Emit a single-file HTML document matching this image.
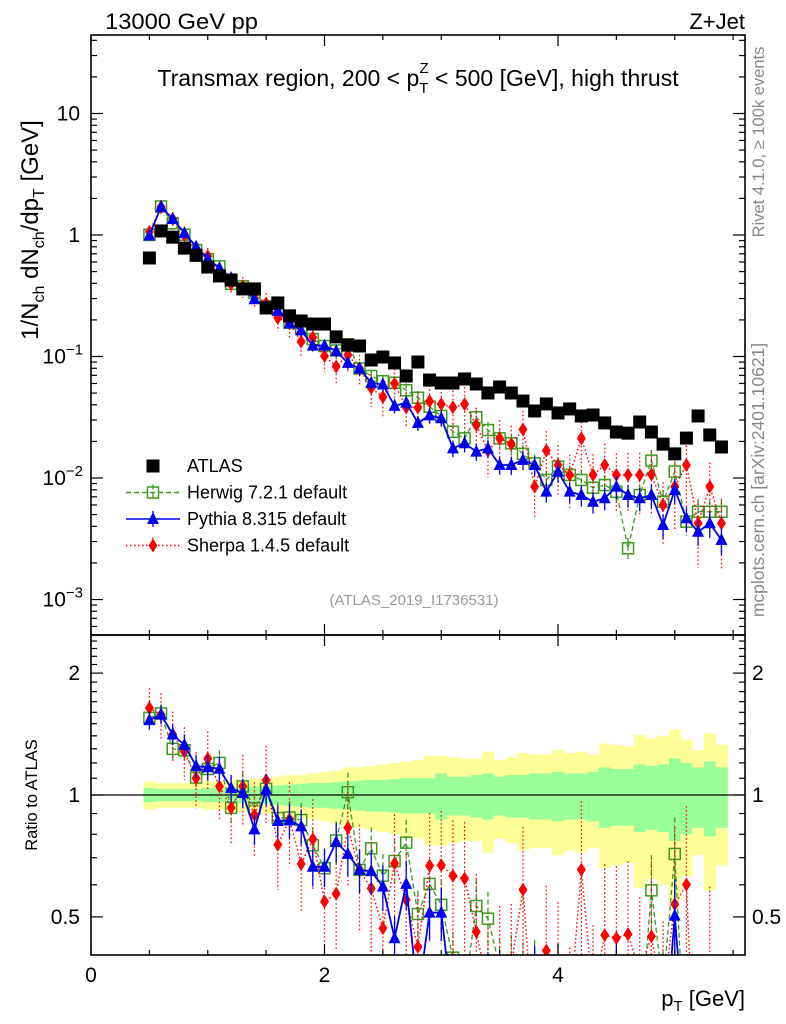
<!DOCTYPE html>
<html><head><meta charset="utf-8">
<style>
html,body{margin:0;padding:0;background:#fff;overflow:hidden;width:786px;height:1024px;}
svg{display:block;font-family:"Liberation Sans",sans-serif;}
</style></head>
<body>
<svg id="chart" width="786" height="1024" viewBox="0 0 786 1024" xmlns="http://www.w3.org/2000/svg">
  <text x="105" y="29" font-size="22" textLength="153" lengthAdjust="spacingAndGlyphs">13000 GeV pp</text>
  <text x="745" y="29" font-size="22" text-anchor="end">Z+Jet</text>
  <text x="418" y="86" font-size="23" text-anchor="middle">Transmax region, 200 &lt; p<tspan font-size="15" dy="7">T</tspan><tspan font-size="15" dx="-9" dy="-20">Z</tspan><tspan dy="13"> &lt; 500 [GeV], high thrust</tspan></text>
  <text transform="translate(38,230) rotate(-90)" font-size="24" text-anchor="middle">1/N<tspan font-size="16" dy="6">ch</tspan><tspan dy="-6"> dN</tspan><tspan font-size="16" dy="6">ch</tspan><tspan dy="-6">/dp</tspan><tspan font-size="16" dy="6">T</tspan><tspan dy="-6"> [GeV]</tspan></text>
  <text transform="translate(764,142) rotate(-90)" font-size="16.5" fill="#888" text-anchor="middle">Rivet 4.1.0, ≥ 100k events</text>
  <text transform="translate(764,480) rotate(-90)" font-size="17.5" fill="#888" text-anchor="middle">mcplots.cern.ch [arXiv:2401.10621]</text>
  <text x="414" y="605" font-size="15" fill="#999" text-anchor="middle">(ATLAS_2019_I1736531)</text>
  <text transform="translate(37,795) rotate(-90)" font-size="16.5" text-anchor="middle">Ratio to ATLAS</text>
  <text x="745" y="1006" font-size="22" text-anchor="end">p<tspan font-size="15" dy="5">T</tspan><tspan dy="-5"> [GeV]</tspan></text>
  <g id="bands"></g>
  <g id="series"></g>
  <g id="axes"></g>
  <g id="legend"></g>
</svg>
<script>
const xVals=[0.5,0.6,0.7,0.8,0.9,1.0,1.1,1.2,1.3,1.4,1.5,1.6,1.7,1.8,1.9,2.0,2.1,2.2,2.3,2.4,2.5,2.6,2.7,2.8,2.9,3.0,3.1,3.2,3.3,3.4,3.5,3.6,3.7,3.8,3.9,4.0,4.1,4.2,4.3,4.4,4.5,4.6,4.7,4.8,4.9,5.0,5.1,5.2,5.3,5.4];
const atlas=[0.647,1.08,0.96,0.78,0.68,0.545,0.46,0.426,0.36,0.36,0.251,0.276,0.216,0.196,0.185,0.185,0.145,0.124,0.122,0.0936,0.099,0.0885,0.0691,0.0901,0.064,0.0605,0.0605,0.0653,0.0594,0.0501,0.0561,0.0501,0.043,0.0356,0.0407,0.0343,0.037,0.0324,0.033,0.0284,0.0239,0.0234,0.0289,0.0239,0.019,0.0158,0.0213,0.0324,0.0226,0.018];
const herwig=[1.003,1.717,1.248,1.006,0.751,0.632,0.552,0.396,0.378,0.334,0.26,0.242,0.19,0.17,0.139,0.122,0.112,0.126,0.0797,0.0691,0.0626,0.0608,0.0527,0.0458,0.0386,0.0324,0.024,0.0212,0.0316,0.0248,0.0212,0.0193,0.0158,0.0132,0.00964,0.0124,0.0106,0.00964,0.00832,0.00875,0.0077,0.00264,0.00724,0.0139,0.00638,0.0113,0.00437,0.00528,0.00528,0.00528];
const pythia=[0.99,1.706,1.354,1.037,0.802,0.638,0.534,0.443,0.364,0.296,0.259,0.238,0.187,0.164,0.123,0.123,0.111,0.0887,0.0797,0.0607,0.0588,0.0392,0.0417,0.0284,0.0328,0.031,0.01755,0.0193,0.0165,0.01755,0.0128,0.0128,0.0141,0.0128,0.00772,0.01127,0.00772,0.00724,0.00638,0.00681,0.00849,0.00724,0.00681,0.00724,0.0041,0.00796,0.00466,0.00361,0.00424,0.00309];
const sherpa=[1.061,1.706,1.354,0.998,0.748,0.67,0.483,0.396,0.378,0.321,0.273,0.208,0.188,0.1325,0.144,0.101,0.0827,0.103,0.0797,0.055,0.0464,0.06,0.0381,0.038,0.0428,0.0406,0.0382,0.0406,0.0273,0.0168,0.0212,0.019,0.0251,0.00849,0.0168,0.0128,0.0106,0.0212,0.0106,0.0128,0.0106,0.0106,0.0106,0.0107,0.006,0.00849,0.0128,0.00424,0.00849,0.00424];
const totErr=[.08,.07,.07,.07,.07,.08,.08,.09,.09,.10,.10,.11,.12,.12,.13,.14,.15,.17,.17,.18,.19,.20,.21,.22,.25,.25,.24,.23,.23,.28,.22,.24,.27,.26,.26,.29,.27,.28,.26,.34,.33,.32,.41,.38,.40,.45,.37,.29,.42,.33];
const statErr=[.04,.035,.035,.035,.035,.04,.04,.045,.045,.05,.05,.055,.06,.065,.07,.07,.075,.08,.085,.09,.09,.095,.10,.10,.10,.13,.11,.11,.12,.13,.11,.12,.12,.13,.13,.14,.13,.13,.14,.17,.16,.16,.19,.18,.19,.23,.20,.17,.21,.17];
const xTicks=[0,2,4];
const mainTicks=[{v:10,l:"10"},{v:1,l:"1"},{v:0.1,l:"10",e:"−1"},{v:0.01,l:"10",e:"−2"},{v:0.001,l:"10",e:"−3"}];
const ratioTicks=[0.5,1,2];

const NS="http://www.w3.org/2000/svg";
const L=91,R=745,T=35,M=635,B=955;
const X=v=>L+v*116.75;
const Y=v=>235-121.5*Math.log10(v);
const YR=r=>795-405*Math.log10(r);
function mk(tag,attrs,parent){const e=document.createElementNS(NS,tag);for(const k in attrs)e.setAttribute(k,attrs[k]);parent.appendChild(e);return e;}
const gB=document.getElementById('bands'),gS=document.getElementById('series'),gA=document.getElementById('axes'),gL=document.getElementById('legend');

xVals.forEach((x,i)=>{
  const x0=X(x-0.05),x1=X(x+0.05);
  const yb=mk('rect',{x:x0,y:YR(1+totErr[i]),width:x1-x0+0.5,height:YR(1-totErr[i])-YR(1+totErr[i]),fill:'#ffff99'},gB);
  
  
  const gb=mk('rect',{x:x0,y:YR(1+statErr[i]),width:x1-x0+0.5,height:YR(1-statErr[i])-YR(1+statErr[i]),fill:'#99ff99'},gB);
  
  
});
const one=mk('line',{x1:L,x2:R,y1:YR(1),y2:YR(1),stroke:'#000','stroke-width':1.3},gB);



const defs=mk('defs',{},gS);
const c1=mk('clipPath',{id:'cm'},defs);mk('rect',{x:L,y:T,width:R-L,height:M-T},c1);
const c2=mk('clipPath',{id:'cr'},defs);mk('rect',{x:L,y:M,width:R-L,height:B-M},c2);

function marker(kind,cx,cy,color,parent){
  if(kind==='sq') return mk('rect',{x:cx-5.5,y:cy-5.5,width:11,height:11,fill:'none',stroke:color,'stroke-width':1.5},parent);
  if(kind==='tri') return mk('path',{d:`M${cx},${cy-7}L${cx+6},${cy+5}L${cx-6},${cy+5}Z`,fill:color},parent);
  if(kind==='dia') return mk('path',{d:`M${cx},${cy-7}L${cx+4.5},${cy}L${cx},${cy+7}L${cx-4.5},${cy}Z`,fill:color},parent);
  return mk('rect',{x:cx-6.5,y:cy-6.5,width:13,height:13,fill:color},parent);
}
const series=[
  {name:'herwig',data:herwig,color:'#3c9a1e',dash:'5,3',kind:'sq',err:0.05,w:1.3},
  {name:'sherpa',data:sherpa,color:'#ff0000',dash:'1.5,2.5',kind:'dia',err:0.12,w:1.5},
  {name:'pythia',data:pythia,color:'#0000ee',dash:'',kind:'tri',err:0.05,w:1.8}
];
series.forEach(s=>{
  ['main','ratio'].forEach(panel=>{
    const g=mk('g',{'clip-path':panel==='main'?'url(#cm)':'url(#cr)'},gS);
    
    
    const yf=(i,f)=>panel==='main'?Y(s.data[i]*f):YR(s.data[i]*f/atlas[i]);
    const pts=xVals.map((x,i)=>X(x)+','+yf(i,1)).join(' ');
    const ln=mk('polyline',{points:pts,fill:'none',stroke:s.color,'stroke-width':s.w,'stroke-dasharray':s.dash},g);
    
    
    xVals.forEach((x,i)=>{
      const e=s.err*(1+(x-0.5)*0.8);
      const eb=mk('line',{x1:X(x),x2:X(x),y1:yf(i,1+e),y2:yf(i,Math.max(0.05,1-e)),stroke:s.color,'stroke-width':1.3,'stroke-dasharray':s.dash},g);
      
      
      const m=marker(s.kind,X(x),yf(i,1),s.color,g);
      
      
    });
  });
});
const ga=mk('g',{'clip-path':'url(#cm)'},gS);
xVals.forEach((x,i)=>{
  const m=marker('fsq',X(x),Y(atlas[i]),'#000',ga);
  
  
});

[[T,M],[M,B]].forEach(([a,b])=>{
  const f=mk('rect',{x:L,y:a,width:R-L,height:b-a,fill:'none',stroke:'#000','stroke-width':1.6},gA);
  
  
});
for(let v=0;v<=5.5;v+=0.5){
  const maj=Math.abs(v%2)<1e-6, len=maj?11:5;
  [[B,-1],[M,-1],[M,1],[T,1]].forEach(([y0,d])=>{
    mk('line',{x1:X(v),x2:X(v),y1:y0,y2:y0+d*len,stroke:'#000','stroke-width':1.2},gA);
  });
}
xTicks.forEach(v=>{
  const t=mk('text',{x:X(v),y:982,'font-size':21,'text-anchor':'middle'},gA);t.textContent=v;
  
  
});
for(let d=-4;d<=1;d++){for(let k=1;k<10;k++){const v=k*Math.pow(10,d);const y=Y(v);if(y<T||y>M)continue;const len=k===1?12:6;
  mk('line',{x1:L,x2:L+len,y1:y,y2:y,stroke:'#000','stroke-width':1.2},gA);
  mk('line',{x1:R,x2:R-len,y1:y,y2:y,stroke:'#000','stroke-width':1.2},gA);}}
mainTicks.forEach(t=>{
  const el=mk('text',{x:80,y:Y(t.v)+7,'font-size':21,'text-anchor':'end'},gA);
  
  
  if(t.e){el.textContent=t.l;const sp=mk('tspan',{'font-size':15,dy:-9},el);sp.textContent=t.e;el.setAttribute('x',83);}
  else el.textContent=t.l;
});
for(let r=0.4;r<2.5;r+=0.1){const y=YR(r);if(y<M||y>B)continue;const maj=[0.5,1,2].some(v=>Math.abs(v-r)<1e-6);const len=maj?12:6;
  mk('line',{x1:L,x2:L+len,y1:y,y2:y,stroke:'#000','stroke-width':1.2},gA);
  mk('line',{x1:R,x2:R-len,y1:y,y2:y,stroke:'#000','stroke-width':1.2},gA);}
ratioTicks.forEach(r=>{
  [[80,'end'],[752,'start']].forEach(([x,a])=>{
    const el=mk('text',{x:x,y:YR(r)+7,'font-size':21,'text-anchor':a},gA);el.textContent=r;
    
    
  });
});
const leg=[{t:'ATLAS',k:'fsq',c:'#000',d:null},{t:'Herwig 7.2.1 default',k:'sq',c:'#3c9a1e',d:'5,3'},{t:'Pythia 8.315 default',k:'tri',c:'#0000ee',d:''},{t:'Sherpa 1.4.5 default',k:'dia',c:'#ff0000',d:'1.5,2.5'}];
leg.forEach((e,i)=>{
  const y=466+i*26.5;
  const g=mk('g',{},gL);
  
  
  if(e.d!==null){mk('line',{x1:126,x2:180,y1:y,y2:y,stroke:e.c,'stroke-width':1.5,'stroke-dasharray':e.d},g);
    mk('line',{x1:153,x2:153,y1:y-8,y2:y+8,stroke:e.c,'stroke-width':1.3,'stroke-dasharray':e.d},g);}
  marker(e.k,153,y,e.c,g);
  const t=mk('text',{x:187,y:y+6,'font-size':18},g);t.textContent=e.t;
});
</script>
</body></html>
